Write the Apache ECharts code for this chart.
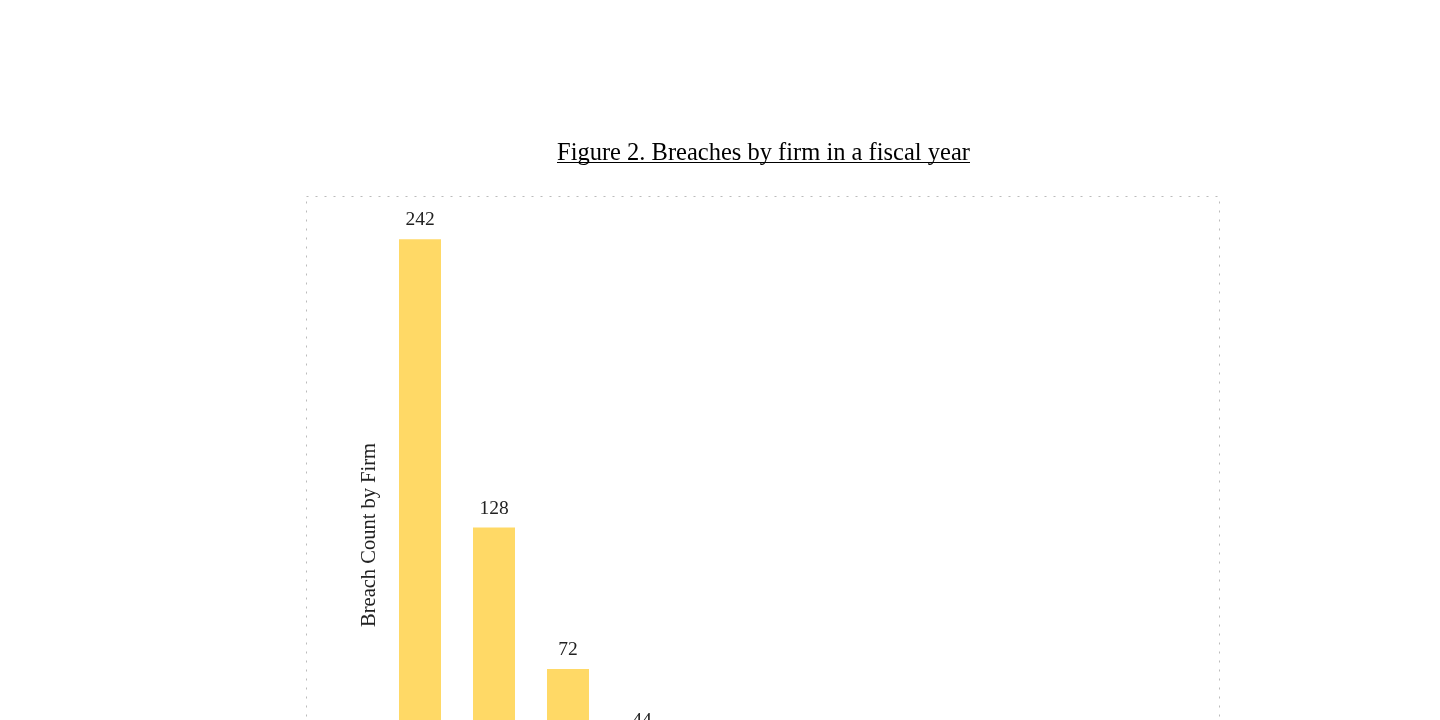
<!DOCTYPE html>
<html lang="en">
<head>
    <meta charset="UTF-8">
    <title>Breaches by firm</title>
    <script src="https://cdn.jsdelivr.net/npm/echarts@6/dist/echarts.min.js"></script>
    <style>
        html, body { margin: 0; padding: 0; overflow: hidden; background: #fff; }
    </style>
</head>
<body>
    <div id="chart" style="width: 1440px; height: 1000px;"></div>
    <script>
        // data (values below the fold are estimated)
        var firms = ['Firm A', 'Firm B', 'Firm C', 'Firm D', 'Firm E', 'Firm F',
                     'Firm G', 'Firm H', 'Firm I', 'Firm J', 'Firm K'];
        var breachCounts = [242, 128, 72, 44, 30, 22, 15, 10, 6, 4, 2];

        var serif = '"Liberation Serif", "Times New Roman", serif';

        var chart = echarts.init(document.getElementById('chart'));

        var option = {
            animation: false,
            title: {
                text: 'Figure 2. Breaches by firm in a fiscal year',
                left: 557,
                top: 141,
                padding: 0,
                textStyle: {
                    fontFamily: serif,
                    fontSize: 24.5,
                    fontWeight: 'normal',
                    color: '#000'
                }
            },
            graphic: [
                {
                    // underline of the title
                    type: 'line',
                    shape: { x1: 557, y1: 162.5, x2: 970, y2: 162.5 },
                    style: { stroke: '#000', lineWidth: 1 }
                },
                {
                    // dotted frame
                    type: 'rect',
                    shape: { x: 306.5, y: 196.5, width: 913, height: 760 },
                    style: { fill: 'none', stroke: '#bbb', lineWidth: 1, lineDash: [2, 7] },
                    silent: true
                }
            ],
            grid: {
                left: 383,
                width: 814,
                top: 219,
                height: 632
            },
            xAxis: {
                type: 'category',
                data: firms,
                axisLine: { show: false },
                axisTick: { show: false },
                axisLabel: { fontFamily: serif, fontSize: 16, color: '#222' }
            },
            yAxis: {
                type: 'value',
                min: 0,
                max: 250,
                name: 'Breach Count by Firm',
                nameLocation: 'middle',
                nameGap: 3,
                nameTextStyle: { fontFamily: serif, fontSize: 20.5, color: '#222' },
                axisLabel: { show: false },
                axisLine: { show: false },
                axisTick: { show: false },
                splitLine: { show: false }
            },
            series: [
                {
                    type: 'bar',
                    data: breachCounts,
                    barWidth: 42,
                    itemStyle: { color: '#FFD966' },
                    label: {
                        show: true,
                        position: 'top',
                        distance: 9,
                        fontFamily: serif,
                        fontSize: 19.5,
                        color: '#222'
                    }
                }
            ]
        };

        chart.setOption(option);
    </script>
</body>
</html>
